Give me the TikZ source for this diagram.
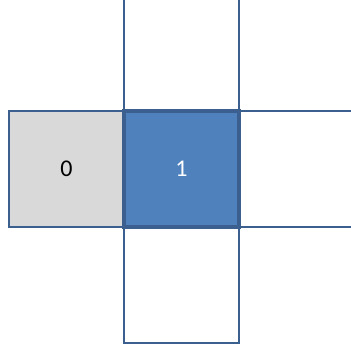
\documentclass[tikz,border=0pt]{standalone}
\usepackage{fontspec}
\setmainfont{Carlito}
\usetikzlibrary{positioning}
\definecolor{Grid_Border}{HTML}{3B5F8F}
\definecolor{Grid_Blue}{HTML}{4F81BD}
\definecolor{Grid_Gray}{HTML}{D9D9D9}

\begin{document}
\begin{tikzpicture}[x=1pt, y=1pt]
    \useasboundingbox (0,0) rectangle (351,354);
    \clip (0,0) rectangle (351,354);
    \tikzset{
        cell/.style={draw=Grid_Border, line width=2.4pt, fill=white,
            minimum width=115pt, minimum height=116pt, inner sep=0pt,
            outer sep=0pt, font=\fontsize{24}{28}\selectfont}
    }

    % Centre of the current cell
    \coordinate (mid) at (181.5,185);

    % Neighbour cells
    \node[cell, fill=Grid_Gray] (west) [left=57.5pt of mid] {0};
    \node[cell] (north) [above=58pt of mid] {};
    \node[cell] (east) [right=57.5pt of mid] {};
    \node[cell] (south) [below=58pt of mid] {};

    % Current cell
    \node[cell, fill=Grid_Blue, text=white, line width=3.4pt] (cur) at (mid) {1};

\end{tikzpicture}
\end{document}
